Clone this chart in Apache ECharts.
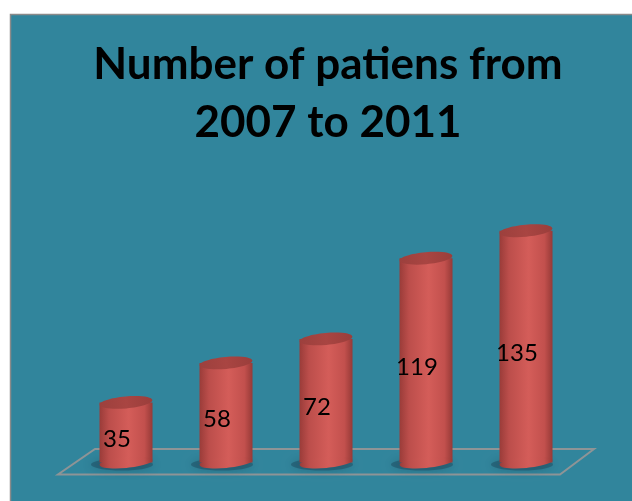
<!DOCTYPE html>
<html><head><meta charset="utf-8">
<script src="https://cdn.jsdelivr.net/npm/echarts@6/dist/echarts.min.js"></script>
<style>html,body{margin:0;padding:0;background:#fff}#c{width:632px;height:501px}</style>
</head><body><div id="c"></div>
<script>
const categories = ['2007', '2008', '2009', '2010', '2011'];
const patients = [35, 58, 72, 119, 135];
const titleText = 'Number of patiens from\n2007 to 2011';

const chart = echarts.init(document.getElementById('c'), null, {renderer: 'canvas'});

function bodyGrad() {
  return new echarts.graphic.LinearGradient(0, 0, 1, 0, [
    {offset: 0, color: '#9A3C39'},
    {offset: 0.18, color: '#BC4E4B'},
    {offset: 0.55, color: '#D45D59'},
    {offset: 0.85, color: '#C2504D'},
    {offset: 1, color: '#963A37'}
  ]);
}
function topGrad() {
  return new echarts.graphic.LinearGradient(0, 0, 1, 0, [
    {offset: 0, color: '#9C403D'},
    {offset: 0.5, color: '#A94542'},
    {offset: 1, color: '#9A3E3B'}
  ]);
}

const option = {
  backgroundColor: '#ffffff',
  animation: false,
  title: {
    text: titleText,
    left: 323,
    top: 31,
    textAlign: 'center',
    textStyle: {
      fontFamily: 'Lato',
      fontWeight: 'bold',
      fontSize: 44,
      lineHeight: 58,
      color: '#000000'
    }
  },
  graphic: [
    {
      type: 'rect', z: -10, silent: true,
      shape: {x: 10.5, y: 14.5, width: 700, height: 600},
      style: {fill: '#31859C', stroke: '#8A8A8A', lineWidth: 1.5}
    },
    {
      type: 'polygon', z: -5, silent: true,
      shape: {points: [[95, 449], [594, 449], [560, 474.5], [58, 474.5]]},
      style: {fill: 'none', stroke: '#8E9496', lineWidth: 2}
    }
  ],
  grid: {left: 76, right: 56, top: 205, bottom: 38.5},
  xAxis: {type: 'category', data: categories, show: false, boundaryGap: true},
  yAxis: {type: 'value', min: 0, max: 150, show: false},
  series: [{
    type: 'custom',
    z: 5,
    data: patients.map((v, i) => [i, v]),
    renderItem: function (params, api) {
      const v = api.value(1);
      const top = api.coord([api.value(0), v]);
      const base = api.coord([api.value(0), 0]);
      const cx = top[0];
      const rx = 26.5, ry = 5.5, rot = 0.09;
      return {
        type: 'group',
        children: [
          {
            type: 'ellipse',
            shape: {cx: cx - 4, cy: base[1] + 2, rx: 31, ry: 6},
            style: {fill: 'rgba(25,60,80,0.4)', shadowBlur: 10, shadowColor: 'rgba(20,50,65,0.65)'}
          },
          {
            type: 'rect',
            shape: {x: cx - rx, y: top[1], width: 2 * rx, height: base[1] - top[1]},
            style: {fill: bodyGrad()}
          },
          {
            type: 'ellipse',
            shape: {cx: cx, cy: base[1], rx: rx, ry: ry},
            rotation: rot, originX: cx, originY: base[1],
            style: {fill: bodyGrad()}
          },
          {
            type: 'ellipse',
            shape: {cx: cx, cy: top[1], rx: rx, ry: ry + 0.5},
            rotation: rot, originX: cx, originY: top[1],
            style: {fill: topGrad()}
          },
          {
            type: 'text',
            style: {
              text: String(v),
              x: cx - 9,
              y: (top[1] + base[1]) / 2 + 7,
              align: 'center',
              verticalAlign: 'middle',
              font: '24px Lato',
              fill: '#000000'
            }
          }
        ]
      };
    }
  }]
};
chart.setOption(option);
</script>
</body></html>
